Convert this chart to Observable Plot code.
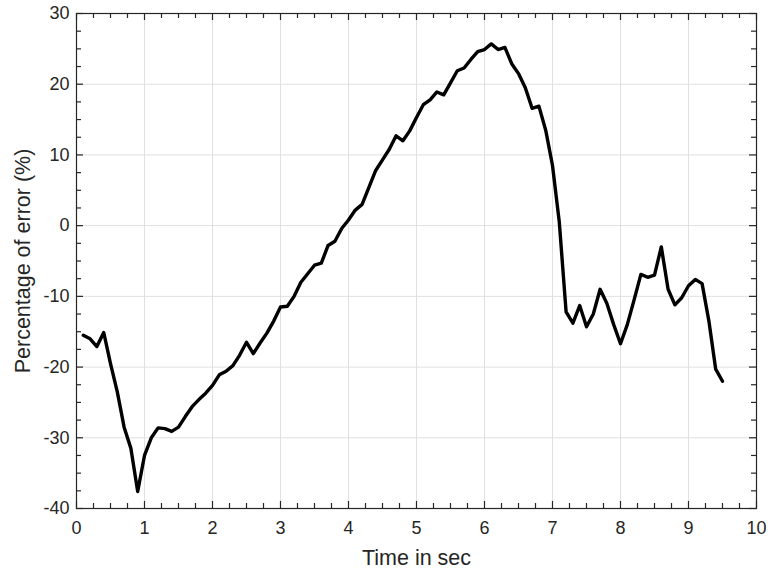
<!DOCTYPE html>
<html>
<head>
<meta charset="utf-8">
<script src="https://cdn.jsdelivr.net/npm/d3@7"></script>
<script src="https://cdn.jsdelivr.net/npm/@observablehq/plot@0.6"></script>
<style>
  html, body { margin: 0; padding: 0; background: #fff; }
  svg { display: block; }
</style>
</head>
<body>
<div id="chart"></div>
<script>
// Sample times (s)
const timeSec = [
  0.1, 0.2, 0.3, 0.4, 0.5, 0.6, 0.7, 0.8, 0.9, 1.0,
  1.1, 1.2, 1.3, 1.4, 1.5, 1.6, 1.7, 1.8, 1.9, 2.0,
  2.1, 2.2, 2.3, 2.4, 2.5, 2.6, 2.7, 2.8, 2.9, 3.0,
  3.1, 3.2, 3.3, 3.4, 3.5, 3.6, 3.7, 3.8, 3.9, 4.0,
  4.1, 4.2, 4.3, 4.4, 4.5, 4.6, 4.7, 4.8, 4.9, 5.0,
  5.1, 5.2, 5.3, 5.4, 5.5, 5.6, 5.7, 5.8, 5.9, 6.0,
  6.1, 6.2, 6.3, 6.4, 6.5, 6.6, 6.7, 6.8, 6.9, 7.0,
  7.1, 7.2, 7.3, 7.4, 7.5, 7.6, 7.7, 7.8, 7.9, 8.0,
  8.1, 8.2, 8.3, 8.4, 8.5, 8.6, 8.7, 8.8, 8.9, 9.0,
  9.1, 9.2, 9.3, 9.4, 9.5
];

// Percentage of error at each sample
const errorPct = [
  -15.5, -16.0, -17.1, -15.1, -19.5, -23.5, -28.5, -31.5, -37.6, -32.5,
  -30.0, -28.6, -28.7, -29.1, -28.5, -27.0, -25.6, -24.6, -23.7, -22.6,
  -21.1, -20.6, -19.8, -18.3, -16.5, -18.1, -16.6, -15.2, -13.5, -11.5,
  -11.4, -10.0, -8.0, -6.8, -5.6, -5.3, -2.8, -2.2, -0.4, 0.8,
  2.2, 3.0, 5.4, 7.8, 9.3, 10.8, 12.7, 12.0, 13.4, 15.3,
  17.1, 17.8, 18.9, 18.5, 20.2, 21.9, 22.3, 23.5, 24.6, 24.9,
  25.7, 24.9, 25.2, 22.9, 21.5, 19.5, 16.6, 16.9, 13.5, 8.5,
  0.5, -12.2, -13.8, -11.3, -14.3, -12.5, -9.0, -11.0, -14.0, -16.7,
  -14.0, -10.5, -6.9, -7.3, -7.0, -3.0, -9.0, -11.2, -10.2, -8.5,
  -7.6, -8.2, -13.5, -20.3, -22.0
];

// Axis ticks
const xTicks = [0, 1, 2, 3, 4, 5, 6, 7, 8, 9, 10];
const yTicks = [-40, -30, -20, -10, 0, 10, 20, 30];
const xMinorTicks = [
  0.25, 0.5, 0.75, 1.25, 1.5, 1.75, 2.25, 2.5, 2.75, 3.25, 3.5, 3.75,
  4.25, 4.5, 4.75, 5.25, 5.5, 5.75, 6.25, 6.5, 6.75, 7.25, 7.5, 7.75,
  8.25, 8.5, 8.75, 9.25, 9.5, 9.75
];
const yMinorTicks = [
  -37.5, -35, -32.5, -27.5, -25, -22.5, -17.5, -15, -12.5, -7.5, -5, -2.5,
  2.5, 5, 7.5, 12.5, 15, 17.5, 22.5, 25, 27.5
];

const xLabel = "Time in sec";
const yLabel = "Percentage of error (%)";

const data = timeSec.map((t, i) => ({t, e: errorPct[i]}));

const W = 770, H = 575;
const M = {left: 76, right: 14, top: 13, bottom: 67};
const innerW = W - M.left - M.right;
const innerH = H - M.top - M.bottom;

const axisColor = "#262626";
const gridColor = "#e0e0e0";
const plain = (d) => String(d);

// Short inward ticks on all four sides of the frame, as inset rules
function boxTicks(xs, ys, size) {
  const s = {stroke: axisColor, strokeWidth: 1.2};
  return [
    Plot.ruleX(xs, {...s, insetTop: innerH - size}),
    Plot.ruleX(xs, {...s, insetBottom: innerH - size}),
    Plot.ruleY(ys, {...s, insetRight: innerW - size}),
    Plot.ruleY(ys, {...s, insetLeft: innerW - size})
  ];
}

const chart = Plot.plot({
  width: W,
  height: H,
  marginLeft: M.left,
  marginRight: M.right,
  marginTop: M.top,
  marginBottom: M.bottom,
  style: {fontFamily: "'Liberation Sans', Arial, sans-serif", background: "#fff"},
  x: {domain: [0, 10]},
  y: {domain: [-40, 30]},
  marks: [
    Plot.gridX(xTicks, {stroke: gridColor, strokeOpacity: 1}),
    Plot.gridY(yTicks, {stroke: gridColor, strokeOpacity: 1}),
    Plot.line(data, {x: "t", y: "e", stroke: "#000", strokeWidth: 3.4, strokeLinejoin: "round"}),
    ...boxTicks(xMinorTicks, yMinorTicks, 5),
    ...boxTicks(xTicks, yTicks, 7),
    Plot.frame({stroke: axisColor, strokeWidth: 1.2}),
    Plot.axisX({anchor: "bottom", ticks: xTicks, tickSize: 0, tickPadding: 13, tickFormat: plain, label: null, fontSize: 18, fill: axisColor}),
    Plot.axisY({anchor: "left", ticks: yTicks, tickSize: 0, tickPadding: 7, tickFormat: plain, label: null, fontSize: 18, fill: axisColor}),
    Plot.text([xLabel], {frameAnchor: "bottom", textAnchor: "middle", lineAnchor: "middle", dy: 50, fontSize: 21.5, fill: axisColor}),
    Plot.text([yLabel], {frameAnchor: "left", textAnchor: "middle", lineAnchor: "middle", dx: -53, rotate: -90, fontSize: 21.5, fill: axisColor})
  ]
});

document.getElementById("chart").appendChild(chart);
</script>
</body>
</html>
